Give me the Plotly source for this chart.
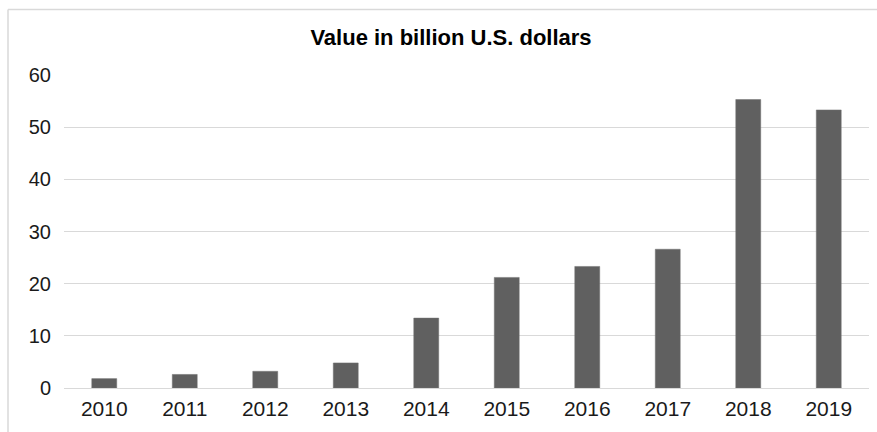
import plotly.graph_objects as go

years = ["2010", "2011", "2012", "2013", "2014", "2015", "2016", "2017", "2018", "2019"]
values = [1.8, 2.6, 3.2, 4.8, 13.4, 21.2, 23.3, 26.6, 55.3, 53.3]
y_ticks = [0, 10, 20, 30, 40, 50, 60]
title_text = "Value in billion U.S. dollars"

fig = go.Figure(
    go.Bar(
        x=years,
        y=values,
        marker=dict(color="#606060", line=dict(color="#707070", width=0.5)),
    )
)

fig.update_layout(
    width=877,
    height=432,
    margin=dict(l=64, r=8, t=75, b=44),
    paper_bgcolor="white",
    plot_bgcolor="white",
    bargap=0.69,
    showlegend=False,
    font=dict(family="Liberation Sans, Arial, sans-serif", size=21, color="#1a1a1a"),
    title=dict(
        text="<b>" + title_text + "</b>",
        x=451 / 877,
        xanchor="center",
        y=1 - 37.5 / 432,
        yanchor="middle",
        xref="container",
        yref="container",
        font=dict(size=22, color="#000000"),
    ),
    xaxis=dict(
        type="category",
        showgrid=False,
        showline=False,
        ticks="",
        tickfont=dict(size=21),
        ticklabelstandoff=6,
    ),
    yaxis=dict(
        range=[0, 60],
        tickvals=y_ticks,
        showgrid=True,
        gridcolor="#d9d9d9",
        gridwidth=1,
        zeroline=True,
        zerolinecolor="#d9d9d9",
        zerolinewidth=1,
        showline=False,
        ticks="",
        tickfont=dict(size=20),
        ticklabelstandoff=12,
    ),
    shapes=[
        dict(type="line", xref="paper", yref="paper",
             x0=(8 - 64) / 805, x1=(877 - 64) / 805,
             y0=(432 - 44 - 9.5) / 313, y1=(432 - 44 - 9.5) / 313,
             line=dict(color="#d9d9d9", width=1.5)),
        dict(type="line", xref="paper", yref="paper",
             x0=(8 - 64) / 805, x1=(8 - 64) / 805,
             y0=(432 - 44 - 9.5) / 313, y1=-44 / 313,
             line=dict(color="#d9d9d9", width=1.5)),
    ],
)

fig.write_html("out.html")
